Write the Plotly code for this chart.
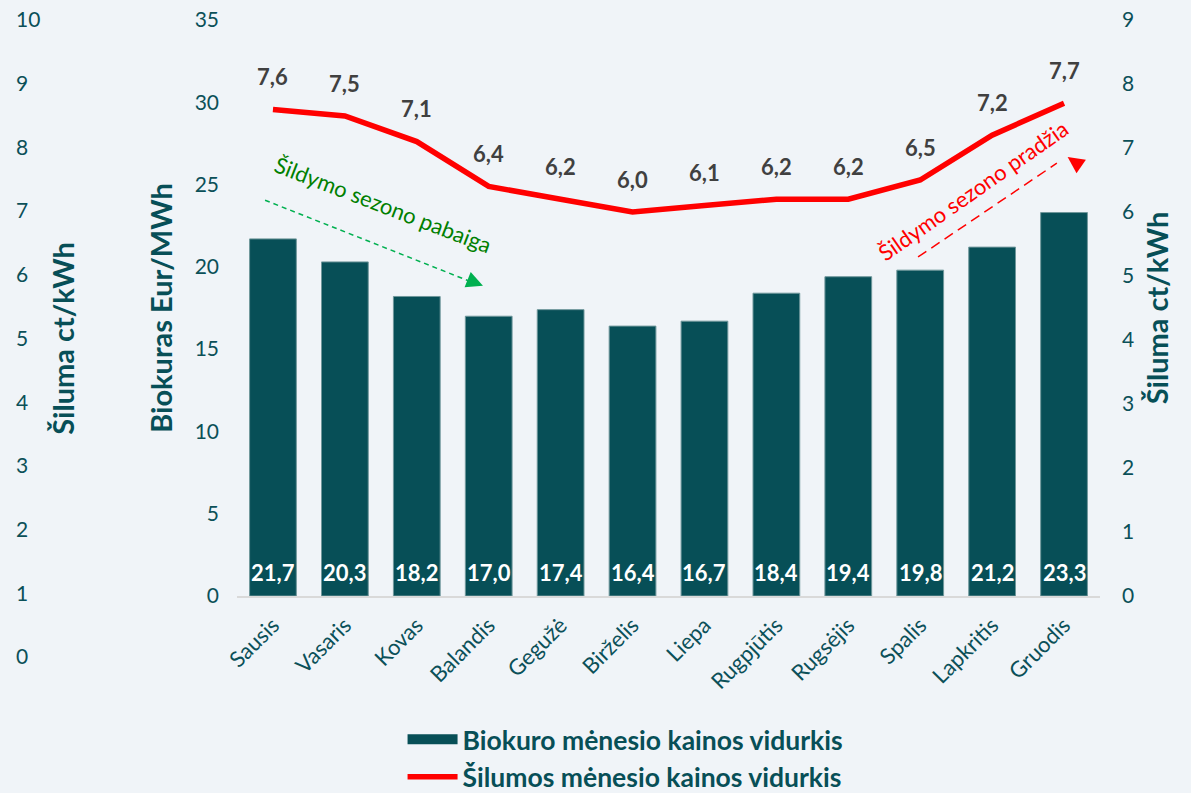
import plotly.graph_objects as go

# Monthly averages
months = ["Sausis", "Vasaris", "Kovas", "Balandis", "Gegužė", "Birželis",
          "Liepa", "Rugpjūtis", "Rugsėjis", "Spalis", "Lapkritis", "Gruodis"]
biofuel_price = [21.7, 20.3, 18.2, 17.0, 17.4, 16.4, 16.7, 18.4, 19.4, 19.8, 21.2, 23.3]  # Eur/MWh
heat_price = [7.6, 7.5, 7.1, 6.4, 6.2, 6.0, 6.1, 6.2, 6.2, 6.5, 7.2, 7.7]  # ct/kWh

left_ticks = [0, 5, 10, 15, 20, 25, 30, 35]
right_ticks = list(range(0, 10))
outer_ticks = list(range(0, 11))

BG = "#F0F4F8"
TEAL = "#074F57"
AXIS_TXT = "#0B5058"
FONT = "Lato"
TICK_SIZE = 21
TITLE_SIZE = 29


def lt(v):
    return f"{v:.1f}".replace(".", ",")


fig = go.Figure()

fig.add_trace(go.Bar(
    x=months, y=biofuel_price, name="Biokuro mėnesio kainos vidurkis",
    marker=dict(color=TEAL, line=dict(color="#6F979B", width=1)),
    showlegend=False, xaxis="x", yaxis="y",
))
# legend entry for the bars (wide block symbol)
fig.add_trace(go.Scatter(
    x=[None], y=[None], mode="lines", name="Biokuro mėnesio kainos vidurkis",
    line=dict(color=TEAL, width=17), xaxis="x", yaxis="y",
))
fig.add_trace(go.Scatter(
    x=months, y=heat_price, mode="lines", name="Šilumos mėnesio kainos vidurkis",
    line=dict(color="#FF0000", width=5.5), xaxis="x", yaxis="y2",
))
# carrier for the outer left scale
fig.add_trace(go.Scatter(x=[None], y=[None], showlegend=False, xaxis="x2", yaxis="y3",
                         hoverinfo="skip"))

annotations = []
for i, v in enumerate(biofuel_price):
    annotations.append(dict(x=i, y=0, xref="x", yref="y", text=lt(v), showarrow=False,
                            yshift=24, font=dict(family=FONT, size=22, color="white", weight="bold")))
for i, v in enumerate(heat_price):
    annotations.append(dict(x=i, y=v, xref="x", yref="y2", text=lt(v), showarrow=False,
                            yshift=33, font=dict(family=FONT, size=22, color="#404040", weight="bold")))

# season notes
annotations.append(dict(x=1.53, y=23.76, xref="x", yref="y", text="Šildymo sezono pabaiga",
                        showarrow=False, textangle=21,
                        font=dict(family=FONT, size=22, color="#008000")))
annotations.append(dict(x=9.73, y=24.67, xref="x", yref="y", text="Šildymo sezono pradžia",
                        showarrow=False, textangle=-35,
                        font=dict(family=FONT, size=22, color="#FF0000")))
# arrow heads
annotations.append(dict(x=2.92, y=18.85, xref="x", yref="y", text="", showarrow=True,
                        ax=-15, ay=-6, arrowhead=2, arrowsize=2.2, arrowwidth=1.5,
                        arrowcolor="#00B050", standoff=0))
annotations.append(dict(x=11.05, y=26.67, xref="x", yref="y", text="", showarrow=True,
                        ax=13, ay=9, arrowhead=2, arrowsize=2.2, arrowwidth=1.5,
                        arrowcolor="#FF0000", standoff=0))

shapes = [
    dict(type="line", xref="x", yref="y", x0=-0.11, y0=24.05, x1=2.75, y1=19.1,
         line=dict(color="#00B050", width=1.5, dash="5px,4px")),
    dict(type="line", xref="x", yref="y", x0=8.97, y0=20.6, x1=10.9, y1=26.3,
         line=dict(color="#FF0000", width=1.5, dash="10px,6px")),
]

fig.update_layout(
    width=1191, height=793,
    margin=dict(l=0, r=0, t=20, b=136, autoexpand=False),
    paper_bgcolor=BG, plot_bgcolor="rgba(0,0,0,0)",
    font=dict(family=FONT, color=AXIS_TXT),
    bargap=0.35,
    showlegend=True,
    legend=dict(x=0.338, y=-0.092, xanchor="left", yanchor="top", orientation="v",
                font=dict(family=FONT, size=26.5, color=TEAL, weight="bold"),
                itemwidth=50, tracegroupgap=0, bgcolor="rgba(0,0,0,0)"),
    xaxis=dict(domain=[237 / 1191, 1100 / 1191], anchor="y", type="category",
               showline=True, linecolor="#D9D9D9", linewidth=1.5, showgrid=False,
               ticks="", tickangle=-45, ticklabelstandoff=6,
               tickfont=dict(family=FONT, size=22, color=AXIS_TXT)),
    xaxis2=dict(domain=[237 / 1191, 1100 / 1191], anchor="y3", visible=False, range=[0, 1]),
    yaxis=dict(domain=[61 / 637, 1], anchor="free", position=219 / 1191, range=[0, 35],
               tickvals=left_ticks, showgrid=False, zeroline=False, showline=False, ticks="",
               tickfont=dict(family=FONT, size=TICK_SIZE, color=AXIS_TXT),
               title=dict(text="Biokuras Eur/MWh", standoff=12,
                          font=dict(family=FONT, size=TITLE_SIZE, color=TEAL, weight="bold"))),
    yaxis2=dict(overlaying="y", side="right", anchor="free", position=1121 / 1191,
                range=[0, 9], tickvals=right_ticks, showgrid=False, zeroline=False,
                showline=False, ticks="", tickfont=dict(family=FONT, size=TICK_SIZE, color=AXIS_TXT),
                title=dict(text="Šiluma ct/kWh", standoff=14,
                           font=dict(family=FONT, size=TITLE_SIZE, color=TEAL, weight="bold"))),
    yaxis3=dict(domain=[0, 1], anchor="free", position=15 / 1191, side="right",
                range=[0, 10], tickvals=outer_ticks, showgrid=False, zeroline=False,
                showline=False, ticks="", tickfont=dict(family=FONT, size=TICK_SIZE, color=AXIS_TXT),
                title=dict(text="Šiluma ct/kWh", standoff=14,
                           font=dict(family=FONT, size=TITLE_SIZE, color=TEAL, weight="bold"))),
    annotations=annotations,
    shapes=shapes,
)

fig.write_html("out.html")
